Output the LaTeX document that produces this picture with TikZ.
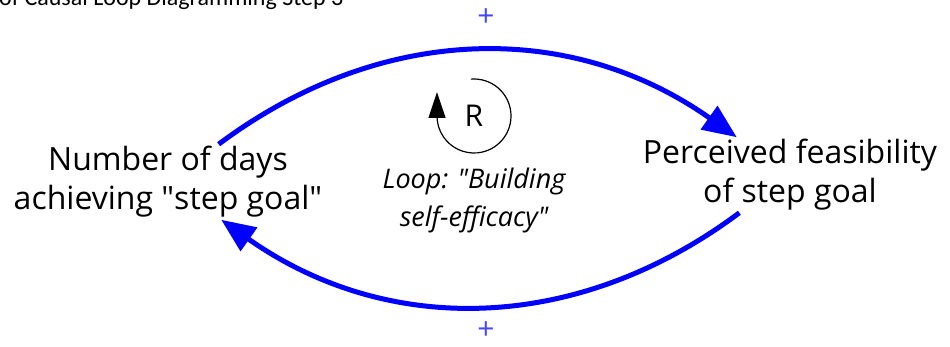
\documentclass[tikz,border=0pt]{standalone}
\usepackage{fontspec}
\setmainfont{Open Sans}
\newfontfamily\headfont{Carlito}
\usetikzlibrary{arrows.meta,positioning,calc}
\definecolor{LinkBlue}{HTML}{0000FF}
\definecolor{SignBlue}{HTML}{4646FF}

\begin{document}
\begin{tikzpicture}[
  x=1pt,y=1pt,
  var/.style={align=center,font=\fontsize{32}{39}\selectfont,inner sep=2pt},
  link/.style={-{Triangle[length=34pt,width=28pt]},line width=5pt,draw=LinkBlue},
  sign/.style={text=SignBlue,font=\fontsize{30}{30}\selectfont,inner sep=0pt},
  loopsym/.style={-{Triangle[length=26pt,width=17pt]},line width=1.2pt}
]
\useasboundingbox (0,0) rectangle (950,346);
\node[anchor=base west,font=\headfont\fontsize{24}{24}\selectfont,inner sep=0pt] (title) at (-1,340) {of Causal Loop Diagramming Step 3};
\node[var] (days) at (168,164) {Number of days\\achieving \textquotedbl step goal\textquotedbl};
\node[var] (feas) at (790,171) {Perceived feasibility\\of step goal};
\foreach \a/\b in {days/feas,feas/days}{\draw[link] (\a) to[bend left=36] (\b);}
\node[sign] (plustop) at (486,328) {+};
\node[sign] (plusbot) at (486,15) {+};
% loop marker
\node[font=\fontsize{30}{30}\selectfont] (R) at (474,230) {R};
\draw[loopsym] (R.center) ++(95:37) arc[start angle=95,end angle=-180,radius=37] -- ++(0,24);
\node[align=center,font=\itshape\fontsize{27}{38}\selectfont,below=34pt of R] (loop) {Loop: \textquotedbl Building\\self-efficacy\textquotedbl};
\end{tikzpicture}
\end{document}
